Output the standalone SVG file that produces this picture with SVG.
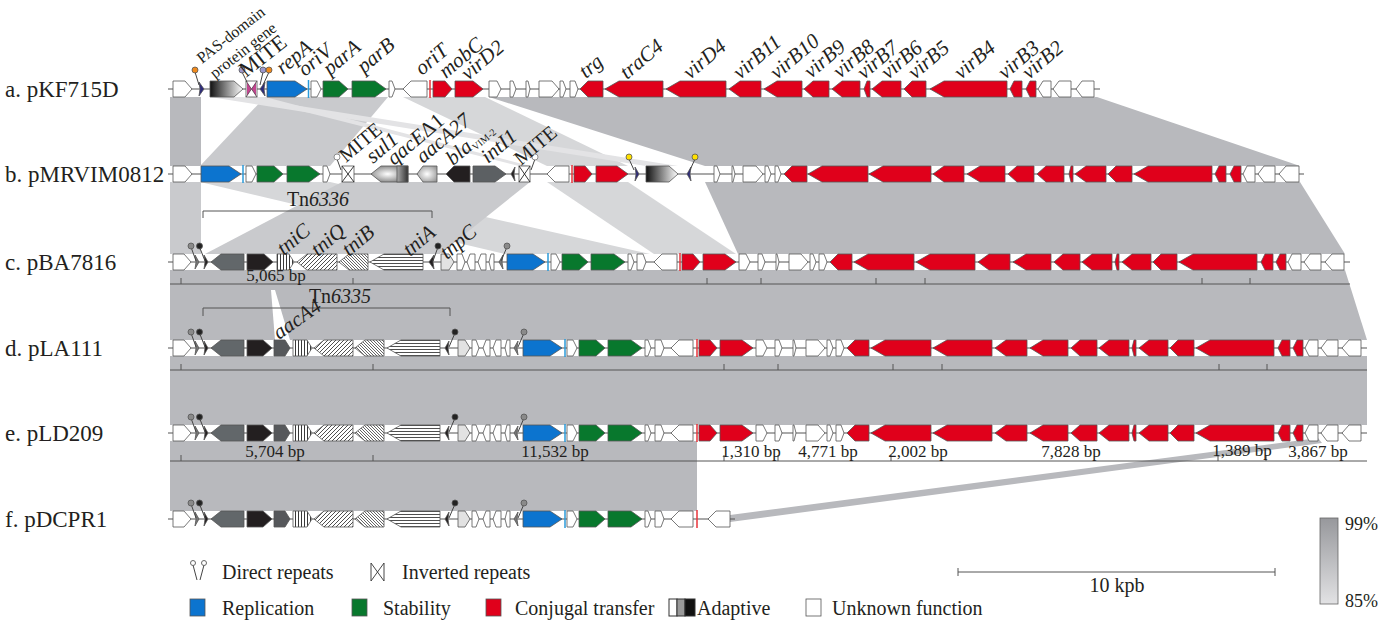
<svg xmlns="http://www.w3.org/2000/svg" xmlns:xlink="http://www.w3.org/1999/xlink" width="1385" height="621" viewBox="0 0 1385 621">
<style>
.t{font-family:"Liberation Serif","Times New Roman",serif;fill:#231f20}
.rl{font-size:23px}
.gl{font-size:21px;font-style:italic}
.nl{font-size:20px}
.sm{font-size:16px}
.bp{font-size:17px;text-anchor:middle}
.w{fill:#fff}.r{fill:#e0001b}.b{fill:#0c74cf}.g{fill:#08782d}.k{fill:#231f20}.s{fill:#62676a}.a4{fill:#56585b}.lg{fill:#e2e2e2}.db{fill:#2c2a7c}
.gene{stroke:#555;stroke-width:0.8}
.bb{stroke:#555;stroke-width:1.2}
.sim{fill:#b8b9bd}
.sim2{fill:#c9cacd}
.sim3{fill:#d6d7d9}
.sim4{fill:#e3e3e5}
.pin{stroke:#444;stroke-width:1}
.scl{stroke:#555;stroke-width:1;fill:none}
</style>
<defs>
<linearGradient id="gPAS" x1="0" y1="0" x2="1" y2="0"><stop offset="0" stop-color="#111"/><stop offset="1" stop-color="#fff"/></linearGradient>
<radialGradient id="gSul" cx="0.45" cy="0.5" r="0.6"><stop offset="0" stop-color="#fff"/><stop offset="1" stop-color="#7a7a7a"/></radialGradient>
<linearGradient id="gQac" x1="0" y1="0" x2="1" y2="0"><stop offset="0" stop-color="#aaa"/><stop offset="1" stop-color="#333"/></linearGradient>
<radialGradient id="gAac" cx="0.5" cy="0.5" r="0.6"><stop offset="0" stop-color="#fff"/><stop offset="1" stop-color="#9a9a9a"/></radialGradient>
<linearGradient id="gKey" x1="0" y1="0" x2="0" y2="1"><stop offset="0" stop-color="#97989c"/><stop offset="1" stop-color="#e2e2e4"/></linearGradient>
<pattern id="pv" width="3" height="4" patternUnits="userSpaceOnUse"><rect width="3" height="4" fill="#fff"/><path d="M1.5,0V4" stroke="#222" stroke-width="0.9"/></pattern>
<pattern id="pd" width="4" height="4" patternUnits="userSpaceOnUse"><rect width="4" height="4" fill="#fff"/><path d="M0,4L4,0M-1,1L1,-1M3,5L5,3" stroke="#222" stroke-width="0.8"/></pattern>
<pattern id="px" width="3" height="3" patternUnits="userSpaceOnUse"><rect width="3" height="3" fill="#fff"/><path d="M0,0L3,3M-1,2L1,4M2,-1L4,1" stroke="#222" stroke-width="0.7"/></pattern>
<pattern id="ph" width="4" height="3" patternUnits="userSpaceOnUse"><rect width="4" height="3" fill="#fff"/><path d="M0,1.5H4" stroke="#222" stroke-width="0.8"/></pattern>

<g id="tnL" class="gene">
<polygon class="w" points="173,-8 184,-8 191,0 184,8 173,8"/>
<polygon points="195,-7 199,0 195,7 196,0" fill="#777"/>
<polygon class="k" points="204,-7 208,0 204,7 205,0"/>
<line class="pin" x1="191" y1="-15" x2="196" y2="-1"/><circle cx="191" cy="-16" r="3" fill="#8a8a8a"/>
<line class="pin" x1="199.5" y1="-15" x2="205" y2="-1"/><circle cx="199.5" cy="-16" r="3" fill="#222"/>
<polygon class="s" points="244,-8 221,-8 211,0 221,8 244,8"/>
<polygon class="k" points="247,-8 263,-8 272,0 263,8 247,8"/>
<polygon class="a4" points="274,-8 285,-8 290,0 285,8 274,8"/>
<polygon fill="url(#pv)" points="293,-8 307,-8 312,0 307,8 293,8"/>
<polygon fill="url(#pd)" points="353,-8 324,-8 314,0 324,8 353,8"/>
<polygon fill="url(#px)" points="384,-8 365,-8 355,0 365,8 384,8"/>
<polygon fill="url(#ph)" points="440,-8 401,-8 387,0 401,8 440,8"/>
<polygon class="k" points="449,-7 445,0 449,7 448,0"/>
<line class="pin" x1="455" y1="-15" x2="449" y2="-1"/><circle cx="455" cy="-16" r="3" fill="#222"/>
<polygon class="lg" points="458,-8 465,-8 470,0 465,8 458,8"/>
<polygon class="w" points="472,-8 476,-8 479,0 476,8 472,8"/>
<polygon class="w" points="490,-8 486,-8 483,0 486,8 490,8"/>
<polygon class="w" points="501,-8 496,-8 493,0 496,8 501,8"/>
<polygon class="w" points="510,-8 507,-8 505,0 507,8 510,8"/>
<polygon points="518,-7 514,0 518,7 517,0" fill="#777"/>
<line class="pin" x1="524" y1="-15" x2="518" y2="-1"/><circle cx="524" cy="-16" r="3" fill="#8a8a8a"/>
<polygon class="b" points="523,-8 550,-8 562,0 550,8 523,8"/>
<line x1="565" y1="-9" x2="565" y2="9" stroke="#2a9ad8" stroke-width="1.5"/>
<polygon class="w" points="567,-8 573,-8 577,0 573,8 567,8"/>
<polygon class="g" points="579,-8 596,-8 605,0 596,8 579,8"/>
<polygon class="g" points="608,-8 631,-8 642,0 631,8 608,8"/>
<polygon class="w" points="645,-8 648,-8 651,0 648,8 645,8"/>
<polygon class="w" points="655,-8 661,-8 664,0 661,8 655,8"/>
<polygon class="w" points="693,-8 679,-8 671,0 679,8 693,8"/>
<line x1="697" y1="-9" x2="697" y2="9" stroke="#e8333a" stroke-width="1.5"/>
</g>

<g id="traR" class="gene">
<polygon class="w" points="739,-8 746,-8 750,0 746,8 739,8"/>
<polygon class="w" points="758,-8 762,-8 765,0 762,8 758,8"/>
<polygon class="w" points="776,-8 777,-8 779,0 777,8 776,8"/>
<polygon class="w" points="789,-8 801,-8 808,0 801,8 789,8"/>
<polygon class="w" points="810,-8 813,-8 816,0 813,8 810,8"/>
<polygon class="w" points="819,-8 824,-8 827,0 824,8 819,8"/>
<polygon class="r" points="852,-8 838,-8 830,0 838,8 852,8"/>
<polygon class="r" points="914,-8 868,-8 854,0 868,8 914,8"/>
<polygon class="r" points="975,-8 930,-8 916,0 930,8 975,8"/>
<polygon class="r" points="1010,-8 989,-8 978,0 989,8 1010,8"/>
<polygon class="r" points="1051,-8 1026,-8 1013,0 1026,8 1051,8"/>
<polygon class="r" points="1080,-8 1063,-8 1054,0 1063,8 1080,8"/>
<polygon class="r" points="1112,-8 1092,-8 1082,0 1092,8 1112,8"/>
<polygon class="r" points="1119,-8 1117,-8 1115,0 1117,8 1119,8"/>
<polygon class="r" points="1151,-8 1132,-8 1122,0 1132,8 1151,8"/>
<polygon class="r" points="1177,-8 1161,-8 1153,0 1161,8 1177,8"/>
<polygon class="r" points="1257,-8 1193,-8 1179,0 1193,8 1257,8"/>
<polygon class="r" points="1273,-8 1265,-8 1261,0 1265,8 1273,8"/>
<polygon class="r" points="1286,-8 1280,-8 1276,0 1280,8 1286,8"/>
<polygon class="w" points="1301,-8 1292,-8 1288,0 1292,8 1301,8"/>
<polygon class="w" points="1321,-8 1310,-8 1304,0 1310,8 1321,8"/>
<polygon class="w" points="1344,-8 1332,-8 1325,0 1332,8 1344,8"/>
</g>
</defs>

<rect width="1385" height="621" fill="#fff"/>

<g id="connectors">
<polygon class="sim" points="170,97 201,97 201,166 170,166"/>
<polygon class="sim2" points="265,97 388,97 330,166 200,166"/>
<polygon class="sim3" points="403,97 485,97 628,166 547,166"/>
<polygon class="sim4" points="210,97 243,97 678,166 646,166"/>
<polygon class="sim4" points="246,97 265,97 530,166 519,166"/>
<polygon class="sim" points="489,97 1097,97 1300,166 705,166"/>
<polygon class="sim2" points="170,182 201,182 201,254 170,254"/>
<polygon class="sim3" points="200,182 330,182 650,254 505,254"/>
<polygon class="sim2" points="342,182 530,182 440,254 205,254"/>
<polygon class="sim3" points="547,182 628,182 736,254 654,254"/>
<polygon class="sim" points="705,182 1300,182 1345,254 738,254"/>
<polygon class="sim" points="170,270 1345,270 1367,340 170,340"/>
<polygon fill="#fff" points="271,290 275,290 290,340 275,340"/>
<polygon class="sim" points="170,356 1367,356 1367,425 170,425"/>
<polygon class="sim" points="170,441 697,441 697,511 170,511"/>
<polygon class="sim" points="730,515 1318,438 1322,443 730,522"/>
</g>

<g id="rowlabels" class="t rl">
<text x="5" y="97">a. pKF715D</text>
<text x="5" y="182">b. pMRVIM0812</text>
<text x="5" y="270">c. pBA7816</text>
<text x="5" y="356">d. pLA111</text>
<text x="5" y="441">e. pLD209</text>
<text x="5" y="527">f. pDCPR1</text>
</g>

<g id="row-a" transform="translate(0,89)">
<line class="bb" x1="168" y1="0" x2="1100" y2="0"/>
<g class="gene">
<polygon class="w" points="173,-8 185,-8 192,0 185,8 173,8"/>
<polygon class="db" points="199,-7 204,0 199,7 200,0"/>
<polygon fill="url(#gPAS)" points="210,-8 234,-8 243,0 234,8 210,8"/>
<rect x="246" y="-8" width="11" height="16" fill="#fff"/>
<polygon points="247,-7 251.5,0 247,7" fill="#c2458f" stroke="none"/>
<polygon points="256,-7 251.5,0 256,7" fill="#c2458f" stroke="none"/>
<path d="M246,-8L257,8M257,-8L246,8" stroke="#444" stroke-width="0.7"/>
<polygon class="db" points="265,-7 260,0 265,7 264,0"/>
<polygon class="b" points="267,-8 295,-8 307,0 295,8 267,8"/>
<line x1="308.5" y1="-9" x2="308.5" y2="9" stroke="#2a9ad8" stroke-width="1.5"/>
<polygon class="w" points="311,-8 317,-8 321,0 317,8 311,8"/>
<polygon class="g" points="323,-8 339,-8 348,0 339,8 323,8"/>
<polygon class="g" points="352,-8 375,-8 386,0 375,8 352,8"/>
<polygon class="w" points="389,-8 392,-8 395,0 392,8 389,8"/>
<polygon class="w" points="427,-8 411,-8 403,0 411,8 427,8"/>
<line x1="430" y1="-9" x2="430" y2="9" stroke="#e8333a" stroke-width="1.5"/>
<polygon class="r" points="433,-8 445,-8 452,0 445,8 433,8"/>
<polygon class="r" points="455,-8 473,-8 483,0 473,8 455,8"/>
<polygon class="w" points="489,-8 497,-8 501,0 497,8 489,8"/>
<polygon class="w" points="510,-8 513,-8 516,0 513,8 510,8"/>
<polygon class="w" points="526,-8 528,-8 530,0 528,8 526,8"/>
<polygon class="w" points="539,-8 552,-8 559,0 552,8 539,8"/>
<polygon class="w" points="560,-8 563,-8 566,0 563,8 560,8"/>
<polygon class="w" points="570,-8 575,-8 578,0 575,8 570,8"/>
<polygon class="r" points="603,-8 588,-8 580,0 588,8 603,8"/>
<polygon class="r" points="663,-8 619,-8 605,0 619,8 663,8"/>
<polygon class="r" points="726,-8 680,-8 666,0 680,8 726,8"/>
<polygon class="r" points="761,-8 740,-8 729,0 740,8 761,8"/>
<polygon class="r" points="802,-8 777,-8 764,0 777,8 802,8"/>
<polygon class="r" points="829,-8 813,-8 804,0 813,8 829,8"/>
<polygon class="r" points="860,-8 842,-8 832,0 842,8 860,8"/>
<polygon class="r" points="870,-8 867,-8 864,0 867,8 870,8"/>
<polygon class="r" points="901,-8 882,-8 872,0 882,8 901,8"/>
<polygon class="r" points="926,-8 912,-8 904,0 912,8 926,8"/>
<polygon class="r" points="1007,-8 944,-8 930,0 944,8 1007,8"/>
<polygon class="r" points="1022,-8 1014,-8 1010,0 1014,8 1022,8"/>
<polygon class="r" points="1036,-8 1030,-8 1026,0 1030,8 1036,8"/>
<polygon class="w" points="1051,-8 1043,-8 1038,0 1043,8 1051,8"/>
<polygon class="w" points="1071,-8 1059,-8 1053,0 1059,8 1071,8"/>
<polygon class="w" points="1094,-8 1082,-8 1076,0 1082,8 1094,8"/>
<line class="pin" x1="195" y1="-17" x2="199" y2="-4"/><circle cx="195" cy="-19" r="3" fill="#f08a1d"/>
<line class="pin" x1="242" y1="-17" x2="247" y2="-7"/><circle cx="242" cy="-19" r="3" fill="#9c97cc"/>
<line class="pin" x1="263" y1="-17" x2="260" y2="-4"/><circle cx="263" cy="-19" r="3" fill="#9c97cc"/>
<line class="pin" x1="269" y1="-17" x2="263" y2="-4"/><circle cx="269" cy="-19" r="3" fill="#f08a1d"/>
</g>
</g>
<g id="labels-a" class="t">
<text class="sm" transform="translate(202,64) rotate(-38)">PAS-domain</text>
<text class="sm" transform="translate(215,79) rotate(-38)">protein gene</text>
<text class="t" font-size="22" transform="translate(246,78) rotate(-38)">MITE</text>
<g class="gl">
<text transform="translate(283,75) rotate(-40)">repA</text>
<text transform="translate(305,77) rotate(-40)">oriV</text>
<text transform="translate(330,76) rotate(-40)">parA</text>
<text transform="translate(364,74) rotate(-40)">parB</text>
<text transform="translate(422,76) rotate(-40)">oriT</text>
<text transform="translate(446,79) rotate(-40)">mobC</text>
<text transform="translate(468,81) rotate(-40)">virD2</text>
<text transform="translate(586,79) rotate(-40)">trg</text>
<text transform="translate(627,80) rotate(-40)">traC4</text>
<text transform="translate(690,80) rotate(-40)">virD4</text>
<text transform="translate(740,80) rotate(-40)">virB11</text>
<text transform="translate(777,80) rotate(-40)">virB10</text>
<text transform="translate(811,79) rotate(-40)">virB9</text>
<text transform="translate(840,79) rotate(-40)">virB8</text>
<text transform="translate(864,80) rotate(-40)">virB7</text>
<text transform="translate(888,80) rotate(-40)">virB6</text>
<text transform="translate(915,80) rotate(-40)">virB5</text>
<text transform="translate(961,80) rotate(-40)">virB4</text>
<text transform="translate(1005,80) rotate(-40)">virB3</text>
<text transform="translate(1029,80) rotate(-40)">virB2</text>
</g>
</g>

<g id="row-b" transform="translate(0,174)">
<line class="bb" x1="168" y1="0" x2="1304" y2="0"/>
<g class="gene">
<polygon class="w" points="173,-8 185,-8 192,0 185,8 173,8"/>
<polygon class="b" points="201,-8 229,-8 241,0 229,8 201,8"/>
<line x1="243" y1="-9" x2="243" y2="9" stroke="#2a9ad8" stroke-width="1.5"/>
<polygon class="w" points="246,-8 252,-8 256,0 252,8 246,8"/>
<polygon class="g" points="257,-8 274,-8 283,0 274,8 257,8"/>
<polygon class="g" points="287,-8 309,-8 320,0 309,8 287,8"/>
<polygon class="w" points="323,-8 327,-8 330,0 327,8 323,8"/>
<line class="pin" x1="337" y1="-15" x2="341" y2="-4"/><circle cx="337" cy="-17" r="3" fill="#fff" stroke="#777"/>
<rect x="342" y="-8" width="12" height="16" fill="#fff"/>
<path d="M342,-8L354,8M354,-8L342,8" stroke="#222" stroke-width="0.9"/>
<polygon fill="url(#gSul)" points="408,-8 381,-8 371,0 381,8 408,8"/>
<rect x="397" y="-8" width="11" height="16" fill="url(#gQac)"/>
<polygon fill="url(#gAac)" points="437,-8 423,-8 417,0 423,8 437,8"/>
<polygon class="k" points="470,-8 454,-8 446,0 454,8 470,8"/>
<polygon fill="#5c6063" points="473,-8 495,-8 506,0 495,8 473,8"/>
<polygon class="k" points="515,-7 511,0 515,7 514,0"/>
<rect x="519" y="-8" width="11" height="16" fill="#fff"/>
<path d="M519,-8L530,8M530,-8L519,8" stroke="#222" stroke-width="0.9"/>
<line class="pin" x1="535" y1="-15" x2="531" y2="-4"/><circle cx="535" cy="-17" r="3" fill="#fff" stroke="#777"/>
<polygon class="w" points="569,-8 555,-8 547,0 555,8 569,8"/>
<line x1="572" y1="-9" x2="572" y2="9" stroke="#e8333a" stroke-width="1.5"/>
<polygon class="r" points="574,-8 585,-8 592,0 585,8 574,8"/>
<polygon class="r" points="596,-8 617,-8 628,0 617,8 596,8"/>
<polygon class="db" points="635,-7 639,0 635,7 636,0"/>
<line class="pin" x1="629" y1="-15" x2="634" y2="-4"/><circle cx="629" cy="-17" r="3" fill="#ffe000"/>
<polygon fill="url(#gPAS)" points="646,-8 669,-8 678,0 669,8 646,8"/>
<polygon class="db" points="691,-7 687,0 691,7 690,0"/>
<line class="pin" x1="695" y1="-15" x2="690" y2="-4"/><circle cx="695" cy="-17" r="3" fill="#ffe000"/>
<polygon class="w" points="714,-8 717,-8 720,0 717,8 714,8"/>
<polygon class="w" points="732,-8 733,-8 735,0 733,8 732,8"/>
<polygon class="w" points="743,-8 756,-8 763,0 756,8 743,8"/>
<polygon class="w" points="765,-8 768,-8 771,0 768,8 765,8"/>
<polygon class="w" points="775,-8 778,-8 781,0 778,8 775,8"/>
<polygon class="r" points="807,-8 792,-8 784,0 792,8 807,8"/>
<polygon class="r" points="868,-8 822,-8 808,0 822,8 868,8"/>
<polygon class="r" points="931,-8 883,-8 869,0 883,8 931,8"/>
<polygon class="r" points="964,-8 944,-8 933,0 944,8 964,8"/>
<polygon class="r" points="1005,-8 980,-8 967,0 980,8 1005,8"/>
<polygon class="r" points="1034,-8 1017,-8 1008,0 1017,8 1034,8"/>
<polygon class="r" points="1064,-8 1046,-8 1037,0 1046,8 1064,8"/>
<polygon class="r" points="1073,-8 1071,-8 1069,0 1071,8 1073,8"/>
<polygon class="r" points="1106,-8 1086,-8 1075,0 1086,8 1106,8"/>
<polygon class="r" points="1132,-8 1116,-8 1108,0 1116,8 1132,8"/>
<polygon class="r" points="1212,-8 1148,-8 1134,0 1148,8 1212,8"/>
<polygon class="r" points="1226,-8 1219,-8 1215,0 1219,8 1226,8"/>
<polygon class="r" points="1241,-8 1234,-8 1230,0 1234,8 1241,8"/>
<polygon class="w" points="1255,-8 1247,-8 1243,0 1247,8 1255,8"/>
<polygon class="w" points="1275,-8 1264,-8 1258,0 1264,8 1275,8"/>
<polygon class="w" points="1299,-8 1286,-8 1279,0 1286,8 1299,8"/>
</g>
</g>
<g id="labels-b" class="t">
<text class="nl" transform="translate(346,163) rotate(-40)">MITE</text>
<text class="gl" transform="translate(373,164) rotate(-40)">sul1</text>
<text class="gl" transform="translate(394,166) rotate(-40)">qacE<tspan font-style="normal">Δ1</tspan></text>
<text class="gl" transform="translate(423,164) rotate(-40)">aacA27</text>
<text class="gl" transform="translate(453,166) rotate(-40)">bla<tspan font-style="normal" font-size="10" dy="3">VIM-2</tspan></text>
<text class="gl" transform="translate(488,164) rotate(-40)">intI1</text>
<text class="nl" transform="translate(521,166) rotate(-40)">MITE</text>
</g>

<g id="tn6336">
<path class="scl" d="M203,218V211H432V218"/>
<text class="t nl" x="318" y="206" text-anchor="middle">Tn<tspan font-style="italic">6336</tspan></text>
</g>

<g id="row-c" transform="translate(0,262)">
<line class="bb" x1="168" y1="0" x2="1350" y2="0"/>
<g class="gene">
<polygon class="w" points="173,-8 184,-8 191,0 184,8 173,8"/>
<polygon points="195,-7 199,0 195,7 196,0" fill="#777"/>
<polygon class="k" points="204,-7 208,0 204,7 205,0"/>
<line class="pin" x1="191" y1="-15" x2="196" y2="-1"/><circle cx="191" cy="-16" r="3" fill="#8a8a8a"/>
<line class="pin" x1="199.5" y1="-15" x2="205" y2="-1"/><circle cx="199.5" cy="-16" r="3" fill="#222"/>
<polygon class="s" points="244,-8 221,-8 211,0 221,8 244,8"/>
<polygon class="k" points="247,-8 264,-8 273,0 264,8 247,8"/>
<polygon fill="url(#pv)" points="277,-8 289,-8 294,0 289,8 277,8"/>
<polygon fill="url(#pd)" points="337,-8 307,-8 297,0 307,8 337,8"/>
<polygon fill="url(#px)" points="368,-8 349,-8 339,0 349,8 368,8"/>
<polygon fill="url(#ph)" points="423,-8 384,-8 370,0 384,8 423,8"/>
<polygon class="k" points="434,-7 429,0 434,7 433,0"/>
<line class="pin" x1="438" y1="-15" x2="433" y2="-1"/><circle cx="438" cy="-16" r="3" fill="#222"/>
<polygon class="lg" points="441,-8 449,-8 454,0 449,8 441,8"/>
<polygon class="w" points="457,-8 462,-8 465,0 462,8 457,8"/>
<polygon class="w" points="475,-8 470,-8 467,0 470,8 475,8"/>
<polygon class="w" points="486,-8 481,-8 478,0 481,8 486,8"/>
<polygon class="w" points="494,-8 491,-8 489,0 491,8 494,8"/>
<polygon points="503,-7 499,0 503,7 502,0" fill="#777"/>
<line class="pin" x1="507" y1="-15" x2="501" y2="-1"/><circle cx="507" cy="-16" r="3" fill="#8a8a8a"/>
<polygon class="b" points="507,-8 533,-8 545,0 533,8 507,8"/>
<line x1="548" y1="-9" x2="548" y2="9" stroke="#2a9ad8" stroke-width="1.5"/>
<polygon class="w" points="551,-8 556,-8 560,0 556,8 551,8"/>
<polygon class="g" points="562,-8 579,-8 588,0 579,8 562,8"/>
<polygon class="g" points="591,-8 614,-8 625,0 614,8 591,8"/>
<polygon class="w" points="628,-8 631,-8 634,0 631,8 628,8"/>
<polygon class="w" points="637,-8 643,-8 646,0 643,8 637,8"/>
<polygon class="w" points="677,-8 662,-8 654,0 662,8 677,8"/>
<line x1="680" y1="-9" x2="680" y2="9" stroke="#e8333a" stroke-width="1.5"/>
<polygon class="r" points="682,-8 693,-8 700,0 693,8 682,8"/>
<polygon class="r" points="703,-8 725,-8 736,0 725,8 703,8"/>
</g>
<use xlink:href="#traR" href="#traR"/>
</g>
<g id="labels-c" class="t gl">
<text transform="translate(284,256) rotate(-40)">tniC</text>
<text transform="translate(318,257) rotate(-40)">tniQ</text>
<text transform="translate(349,257) rotate(-40)">tniB</text>
<text transform="translate(410,257) rotate(-40)">tniA</text>
<text transform="translate(447,260) rotate(-40)">tnpC</text>
</g>
<g id="scale-c">
<path class="scl" d="M170,284H1350M181,278V284M353,278V284M707,278V284M761,278V284M876,278V284M925,278V284M1202,278V284M1250,278V284"/>
<text class="t bp" x="276" y="281">5,065 bp</text>
</g>

<g id="tn6335">
<path class="scl" d="M203,316V308H450V316"/>
<text class="t nl" x="340" y="303" text-anchor="middle">Tn<tspan font-style="italic">6335</tspan></text>
</g>

<g id="row-d" transform="translate(0,348)">
<line class="bb" x1="168" y1="0" x2="1367" y2="0"/>
<use xlink:href="#tnL" href="#tnL"/>
<g class="gene">
<polygon class="r" points="699,-8 710,-8 717,0 710,8 699,8"/>
<polygon class="r" points="720,-8 742,-8 753,0 742,8 720,8"/>
</g>
<use xlink:href="#traR" href="#traR" x="17"/>
</g>
<text class="t gl" transform="translate(279,340) rotate(-35)">aacA4</text>
<path class="scl" d="M170,370H1367M181,364V370M373,364V370M724,364V370M778,364V370M893,364V370M942,364V370M1219,364V370M1267,364V370"/>

<g id="row-e" transform="translate(0,433)">
<line class="bb" x1="168" y1="0" x2="1367" y2="0"/>
<use xlink:href="#tnL" href="#tnL"/>
<g class="gene">
<polygon class="r" points="699,-8 710,-8 717,0 710,8 699,8"/>
<polygon class="r" points="720,-8 742,-8 753,0 742,8 720,8"/>
</g>
<use xlink:href="#traR" href="#traR" x="17"/>
</g>
<g id="scale-e">
<path class="scl" d="M170,461H1367M181,455V461M373,455V461M724,455V461M778,455V461M891,455V461M1218,455V461M1266,455V461"/>
<g class="t bp">
<text x="275" y="457">5,704 bp</text>
<text x="555" y="457">11,532 bp</text>
<text x="751" y="457">1,310 bp</text>
<text x="828" y="457">4,771 bp</text>
<text x="918" y="457">2,002 bp</text>
<text x="1071" y="457">7,828 bp</text>
<text x="1242" y="456">1,389 bp</text>
<text x="1318" y="457">3,867 bp</text>
</g>
</g>

<g id="row-f" transform="translate(0,519)">
<line class="bb" x1="168" y1="0" x2="735" y2="0"/>
<use xlink:href="#tnL" href="#tnL"/>
<polygon class="w gene" points="730,-8 716,-8 708,0 716,8 730,8"/>
</g>

<g id="legend" class="t">
<line class="pin" x1="193" y1="565" x2="197" y2="580"/><circle cx="193" cy="563" r="2.5" fill="#fff" stroke="#666"/>
<line class="pin" x1="204" y1="565" x2="200" y2="580"/><circle cx="204" cy="563" r="2.5" fill="#fff" stroke="#666"/>
<text class="nl" x="222" y="579">Direct repeats</text>
<path d="M371,563L384,581M384,563L371,581M371,563V581M384,563V581" stroke="#333" stroke-width="0.9" fill="none"/>
<text class="nl" x="402" y="579">Inverted repeats</text>
<rect class="b gene" x="190" y="599" width="15" height="17"/>
<text class="nl" x="222" y="615">Replication</text>
<rect class="g gene" x="352" y="599" width="15" height="17"/>
<text class="nl" x="383" y="615">Stability</text>
<rect class="r gene" x="486" y="599" width="15" height="17"/>
<text class="nl" x="515" y="615">Conjugal transfer</text>
<rect x="669" y="599" width="8" height="17" fill="#fff" stroke="#333"/>
<rect x="677" y="599" width="8" height="17" fill="#9a9a9a" stroke="#333"/>
<rect x="685" y="599" width="10" height="17" fill="#111" stroke="#333"/>
<text class="nl" x="697" y="615">Adaptive</text>
<rect class="w gene" x="806" y="599" width="15" height="17"/>
<text class="nl" x="832" y="615">Unknown function</text>
</g>

<g id="scalebar">
<path class="scl" d="M958,572H1275M958,568V576M1275,568V576"/>
<text class="t" x="1117" y="592" font-size="20" text-anchor="middle">10 kpb</text>
</g>

<g id="key">
<rect x="1320" y="518" width="18" height="86" fill="url(#gKey)" stroke="#666" stroke-width="0.8"/>
<text class="t" x="1345" y="530" font-size="18">99%</text>
<text class="t" x="1345" y="607" font-size="18">85%</text>
</g>
</svg>
